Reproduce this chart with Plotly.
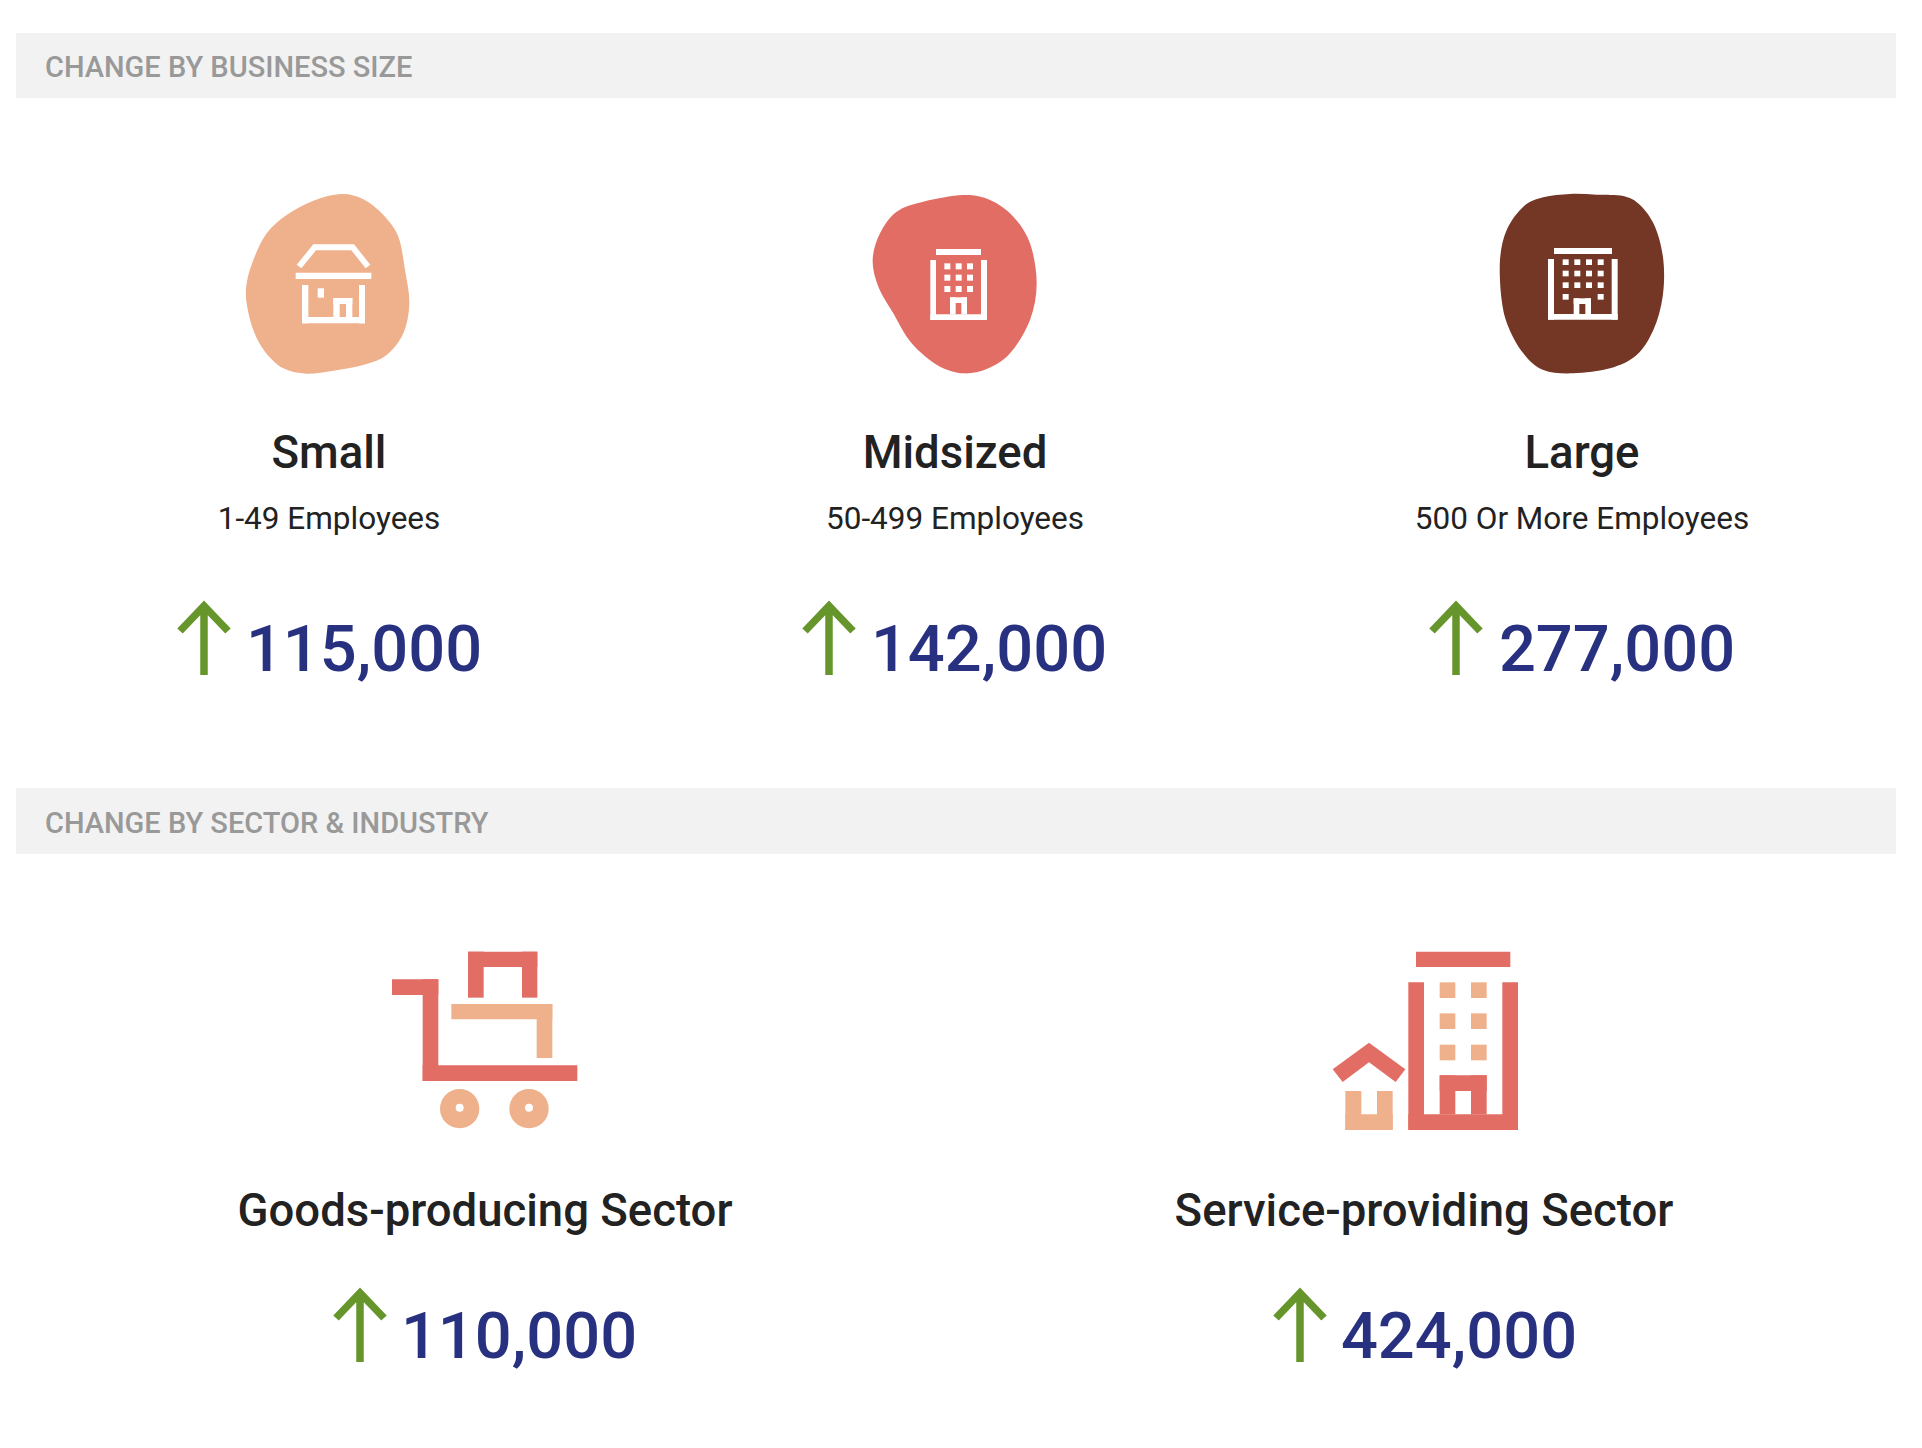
import plotly.graph_objects as go


def blob_path(points, dx, dy):
    # closed smooth curve through the points, zoomed crop coords are 3x
    pts = [(dx + p[0] / 3, dy + p[1] / 3) for p in points]
    n = len(pts)
    path = "M {},{}".format(pts[0][0], pts[0][1])
    for i in range(n):
        p0, p1, p2, p3 = pts[i - 1], pts[i], pts[(i + 1) % n], pts[(i + 2) % n]
        c1 = (p1[0] + (p2[0] - p0[0]) / 6, p1[1] + (p2[1] - p0[1]) / 6)
        c2 = (p2[0] - (p3[0] - p1[0]) / 6, p2[1] - (p3[1] - p1[1]) / 6)
        path += " C {},{} {},{} {},{}".format(c1[0], c1[1], c2[0], c2[1], p2[0], p2[1])
    return path + " Z"


def add_blob(fig, points, dx, dy, color):
    fig.add_shape(type="path", path=blob_path(points, dx, dy), fillcolor=color, line_width=0)


def add_rects(fig, rects, dx, dy, color):
    for r in rects:
        fig.add_shape(type="rect", x0=dx + r[0] / 3, y0=dy + r[1] / 3, x1=dx + r[2] / 3, y1=dy + r[3] / 3,
                      fillcolor=color, line_width=0)


def add_polygon(fig, points, dx, dy, color):
    path = "M " + " L ".join("{},{}".format(dx + p[0] / 3, dy + p[1] / 3) for p in points) + " Z"
    fig.add_shape(type="path", path=path, fillcolor=color, line_width=0)


def add_circle(fig, cx, cy, r, dx, dy, color):
    fig.add_shape(type="circle", x0=dx + (cx - r) / 3, y0=dy + (cy - r) / 3, x1=dx + (cx + r) / 3,
                  y1=dy + (cy + r) / 3, fillcolor=color, line_width=0)


def add_arrow(fig, x, y_top, y_bottom):
    path = "M {0},{2} L {0},{1} M {3},{4} L {0},{1} L {5},{4}".format(x, y_top + 4, y_bottom, x - 24, y_top + 29, x + 24)
    fig.add_shape(type="path", path=path, line=dict(color=GREEN, width=7.5))


def add_text(fig, x, y, text, size, color, weight=400, position="middle center"):
    fig.add_trace(go.Scatter(x=x, y=y, text=text, mode="text", textposition=position, hoverinfo="skip",
                             textfont=dict(family=FONT, size=size, color=color, weight=weight)))


FONT = "Roboto"
PEACH = "#EFB08C"
RED = "#E26D64"
BROWN = "#743726"
GREEN = "#66962B"
NAVY = "#27317F"
DARK = "#222222"
GREY = "#999999"
BAND = "#F2F2F2"

HEADERS = ["CHANGE BY BUSINESS SIZE", "CHANGE BY SECTOR & INDUSTRY"]
SIZES = ["Small", "Midsized", "Large"]
SIZE_NOTES = ["1-49 Employees", "50-499 Employees", "500 Or More Employees"]
SIZE_CHANGES = [115000, 142000, 277000]
SECTORS = ["Goods-producing Sector", "Service-providing Sector"]
SECTOR_CHANGES = [110000, 424000]

fig = go.Figure()

# header bands
fig.add_shape(type="rect", x0=16, y0=33, x1=1896, y1=98, fillcolor=BAND, line_width=0, layer="below")
fig.add_shape(type="rect", x0=16, y0=788, x1=1896, y1=854, fillcolor=BAND, line_width=0, layer="below")

# blobs
add_blob(fig, [(335, 72), (400, 88), (460, 135), (505, 200), (525, 300), (538, 400), (520, 490), (470, 555),
               (400, 585), (310, 602), (230, 611), (160, 595), (105, 545), (70, 480), (50, 400), (50, 340),
               (70, 270), (110, 190), (170, 135), (250, 92)], 230, 170, PEACH)
add_blob(fig, [(340, 75), (420, 90), (490, 140), (540, 220), (560, 340), (540, 450), (480, 550), (410, 597),
               (340, 610), (270, 590), (215, 550), (170, 500), (130, 430), (85, 350), (68, 270), (90, 190),
               (140, 125), (220, 95)], 850, 170, RED)
add_blob(fig, [(270, 72), (350, 74), (430, 78), (480, 105), (525, 170), (550, 270), (548, 380), (520, 480),
               (470, 555), (390, 595), (280, 610), (190, 600), (130, 550), (85, 470), (65, 390), (60, 270),
               (80, 180), (130, 110), (190, 82)], 1480, 170, BROWN)

# small shop
add_polygon(fig, [(200, 284), (250, 223), (372, 223), (421, 284), (407, 295), (364, 241), (258, 241), (214, 295)],
            230, 170, "white")
add_rects(fig, [(197, 308, 424, 327), (216, 345, 235, 460), (387, 345, 405, 460), (216, 441, 405, 460),
                (263, 355, 282, 383), (310, 384, 329, 441), (348, 384, 367, 441), (310, 384, 367, 402)],
          230, 170, "white")

# midsized office
add_rects(fig, [(258, 237, 393, 255), (241, 270, 258, 450), (393, 270, 411, 450), (241, 433, 411, 450),
                (300, 382, 317, 433), (334, 382, 351, 433), (300, 382, 351, 399)], 850, 170, "white")
for wx in [283, 317, 351]:
    for wy in [280, 314, 348]:
        add_rects(fig, [(wx, wy, wx + 18, wy + 18)], 850, 170, "white")

# large office
add_rects(fig, [(222, 234, 396, 252), (204, 267, 222, 449), (395, 267, 413, 449), (204, 432, 413, 449),
                (281, 385, 298, 432), (316, 385, 333, 432), (281, 385, 333, 402)], 1480, 170, "white")
for wx in [248, 283, 318, 353]:
    for wy in [268, 302, 337]:
        add_rects(fig, [(wx, wy, wx + 18, wy + 17)], 1480, 170, "white")
for wx in [248, 353]:
    add_rects(fig, [(wx, 372, wx + 18, 389)], 1480, 170, "white")

# cart
add_rects(fig, [(126, 238, 265, 285), (218, 238, 265, 543), (218, 496, 682, 543), (354, 155, 562, 201),
                (354, 155, 401, 293), (516, 155, 562, 293)], 350, 900, RED)
add_rects(fig, [(304, 312, 607, 358), (560, 312, 607, 474)], 350, 900, PEACH)
for cx in [329, 537]:
    add_circle(fig, cx, 626, 59, 350, 900, PEACH)
    add_circle(fig, cx, 623, 12, 350, 900, "white")

# tower and house
add_rects(fig, [(348, 155, 631, 201), (325, 247, 372, 690), (607, 247, 654, 690), (325, 643, 654, 690),
                (419, 526, 560, 573), (419, 526, 466, 643), (513, 526, 560, 643)], 1300, 900, RED)
for wx in [419, 513]:
    for wy in [247, 340, 434]:
        add_rects(fig, [(wx, wy, wx + 47, wy + 47)], 1300, 900, PEACH)
add_polygon(fig, [(98, 508), (207, 428), (316, 508), (287, 546), (207, 487), (128, 546)], 1300, 900, RED)
add_rects(fig, [(136, 573, 184, 690), (231, 573, 278, 690), (136, 643, 278, 690)], 1300, 900, PEACH)

# arrows
for ax in [204, 829, 1456]:
    add_arrow(fig, ax, 602, 675)
for ax in [360, 1300]:
    add_arrow(fig, ax, 1289, 1362)

# texts
add_text(fig, [45, 45], [70, 826], HEADERS, 29, GREY, 500, "middle right")
add_text(fig, [329, 955, 1582], [457, 457, 457], SIZES, 45.5, DARK, 500)
add_text(fig, [329, 955, 1582], [521, 521, 521], SIZE_NOTES, 31.5, DARK)
add_text(fig, [364, 989, 1617], [655, 655, 655], ["{:,}".format(v) for v in SIZE_CHANGES], 65, NAVY, 500)
add_text(fig, [485, 1424], [1215, 1215], SECTORS, 45.5, DARK, 500)
add_text(fig, [519, 1459], [1342, 1342], ["{:,}".format(v) for v in SECTOR_CHANGES], 65, NAVY, 500)

# the page keeps an 8px body margin, so the axes start at 8
fig.update_xaxes(range=[8, 1914], visible=False, fixedrange=True)
fig.update_yaxes(range=[1440, 8], visible=False, fixedrange=True)
fig.update_layout(width=1906, height=1432, margin=dict(l=0, r=0, t=0, b=0), showlegend=False,
                  plot_bgcolor="white", paper_bgcolor="white")
fig.write_html("out.html")
